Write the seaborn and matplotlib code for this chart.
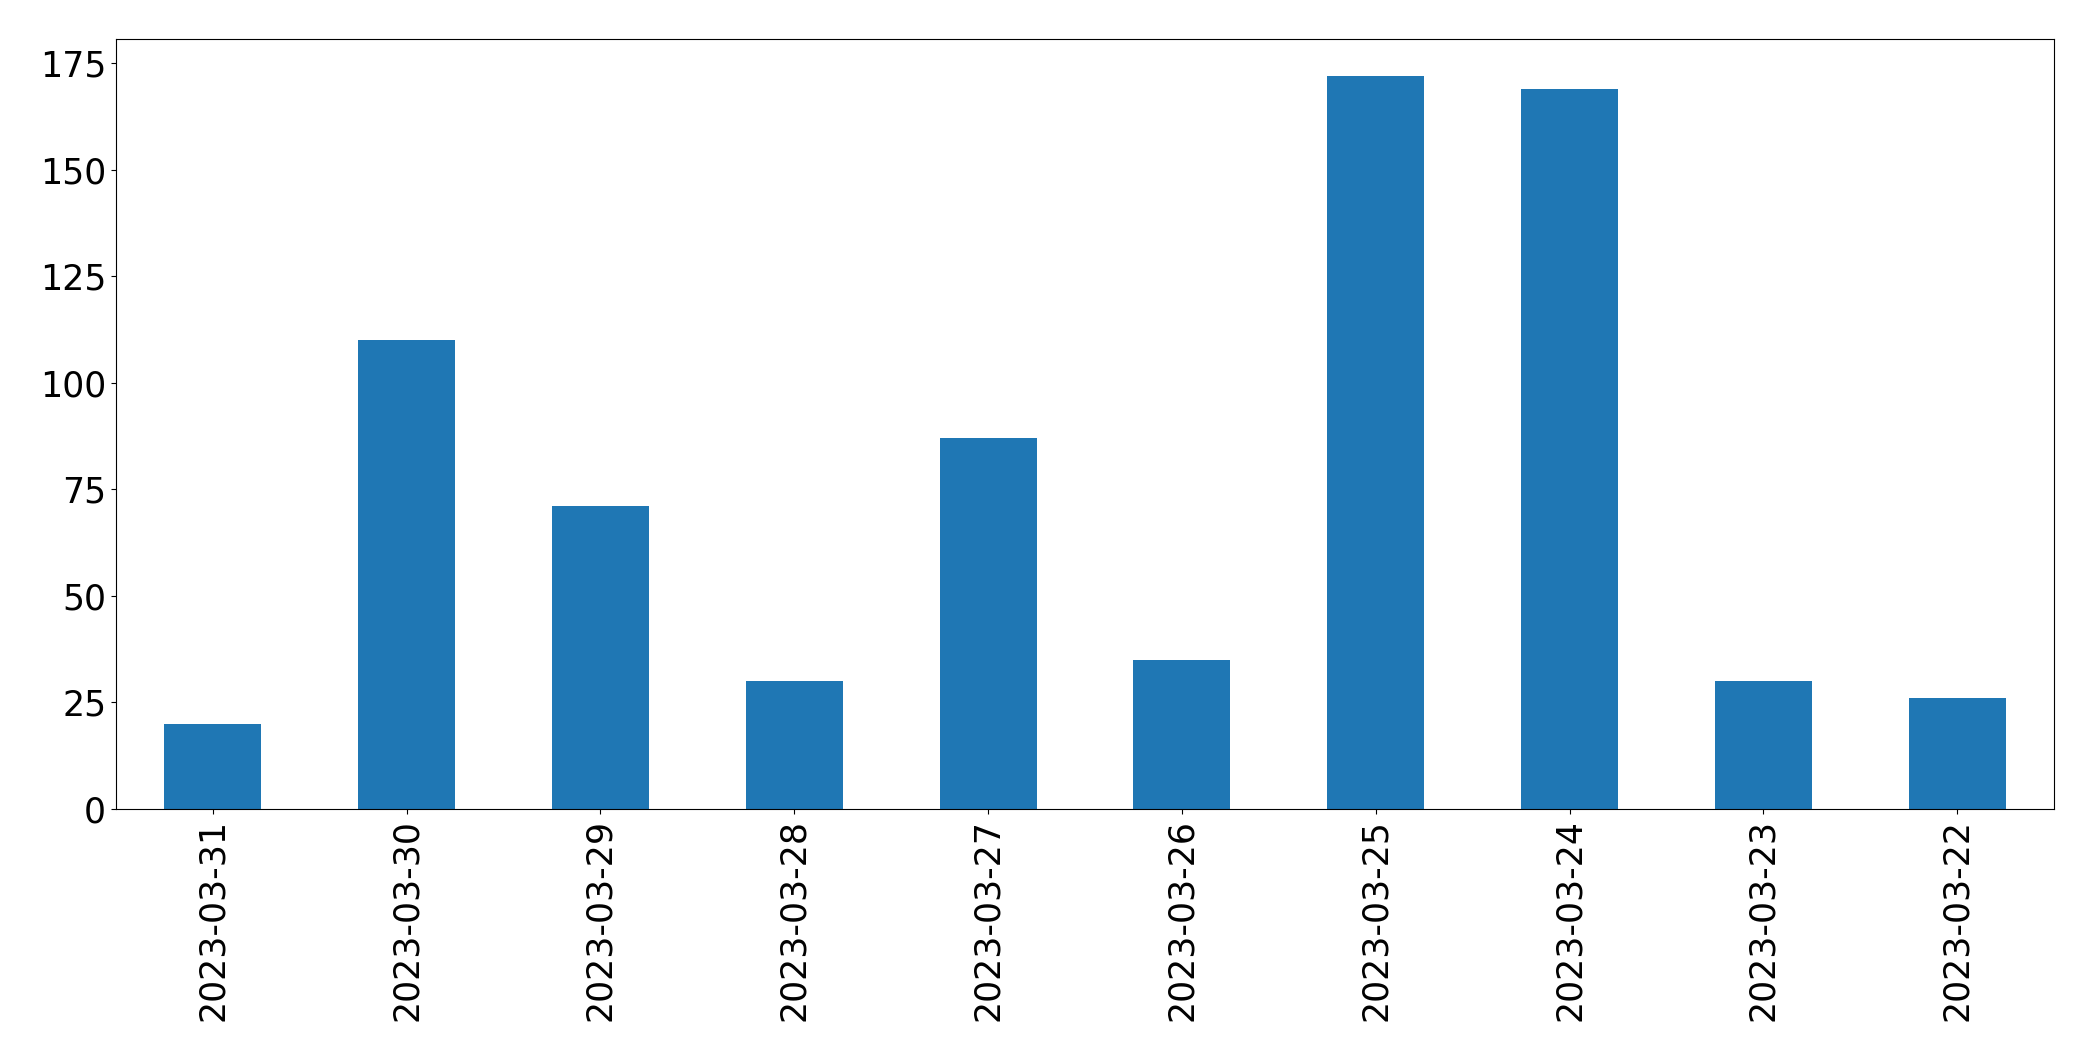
import matplotlib
matplotlib.use('Agg')
import matplotlib.pyplot as plt
import seaborn as sns
import pandas as pd

# daily counts, newest first (as in the original)
dates = ['2023-03-31', '2023-03-30', '2023-03-29', '2023-03-28', '2023-03-27',
         '2023-03-26', '2023-03-25', '2023-03-24', '2023-03-23', '2023-03-22']
counts = [20, 110, 71, 30, 87, 35, 172, 169, 30, 26]

df = pd.DataFrame({'date': dates, 'count': counts})

plt.rcParams['font.size'] = 25

fig, ax = plt.subplots(figsize=(20.93, 10.61), dpi=100)
fig.subplots_adjust(left=0.0554, right=0.9814, top=0.9628, bottom=0.2375)

sns.barplot(data=df, x='date', y='count', order=dates, color='#1f77b4',
            saturation=1, width=0.5, linewidth=0, ax=ax)

ax.set_xlim(-0.5, len(dates) - 0.5)
ax.set_xlabel('')
ax.set_ylabel('')
ax.tick_params(axis='x', labelrotation=90)

plt.savefig('out.png', dpi=100)
